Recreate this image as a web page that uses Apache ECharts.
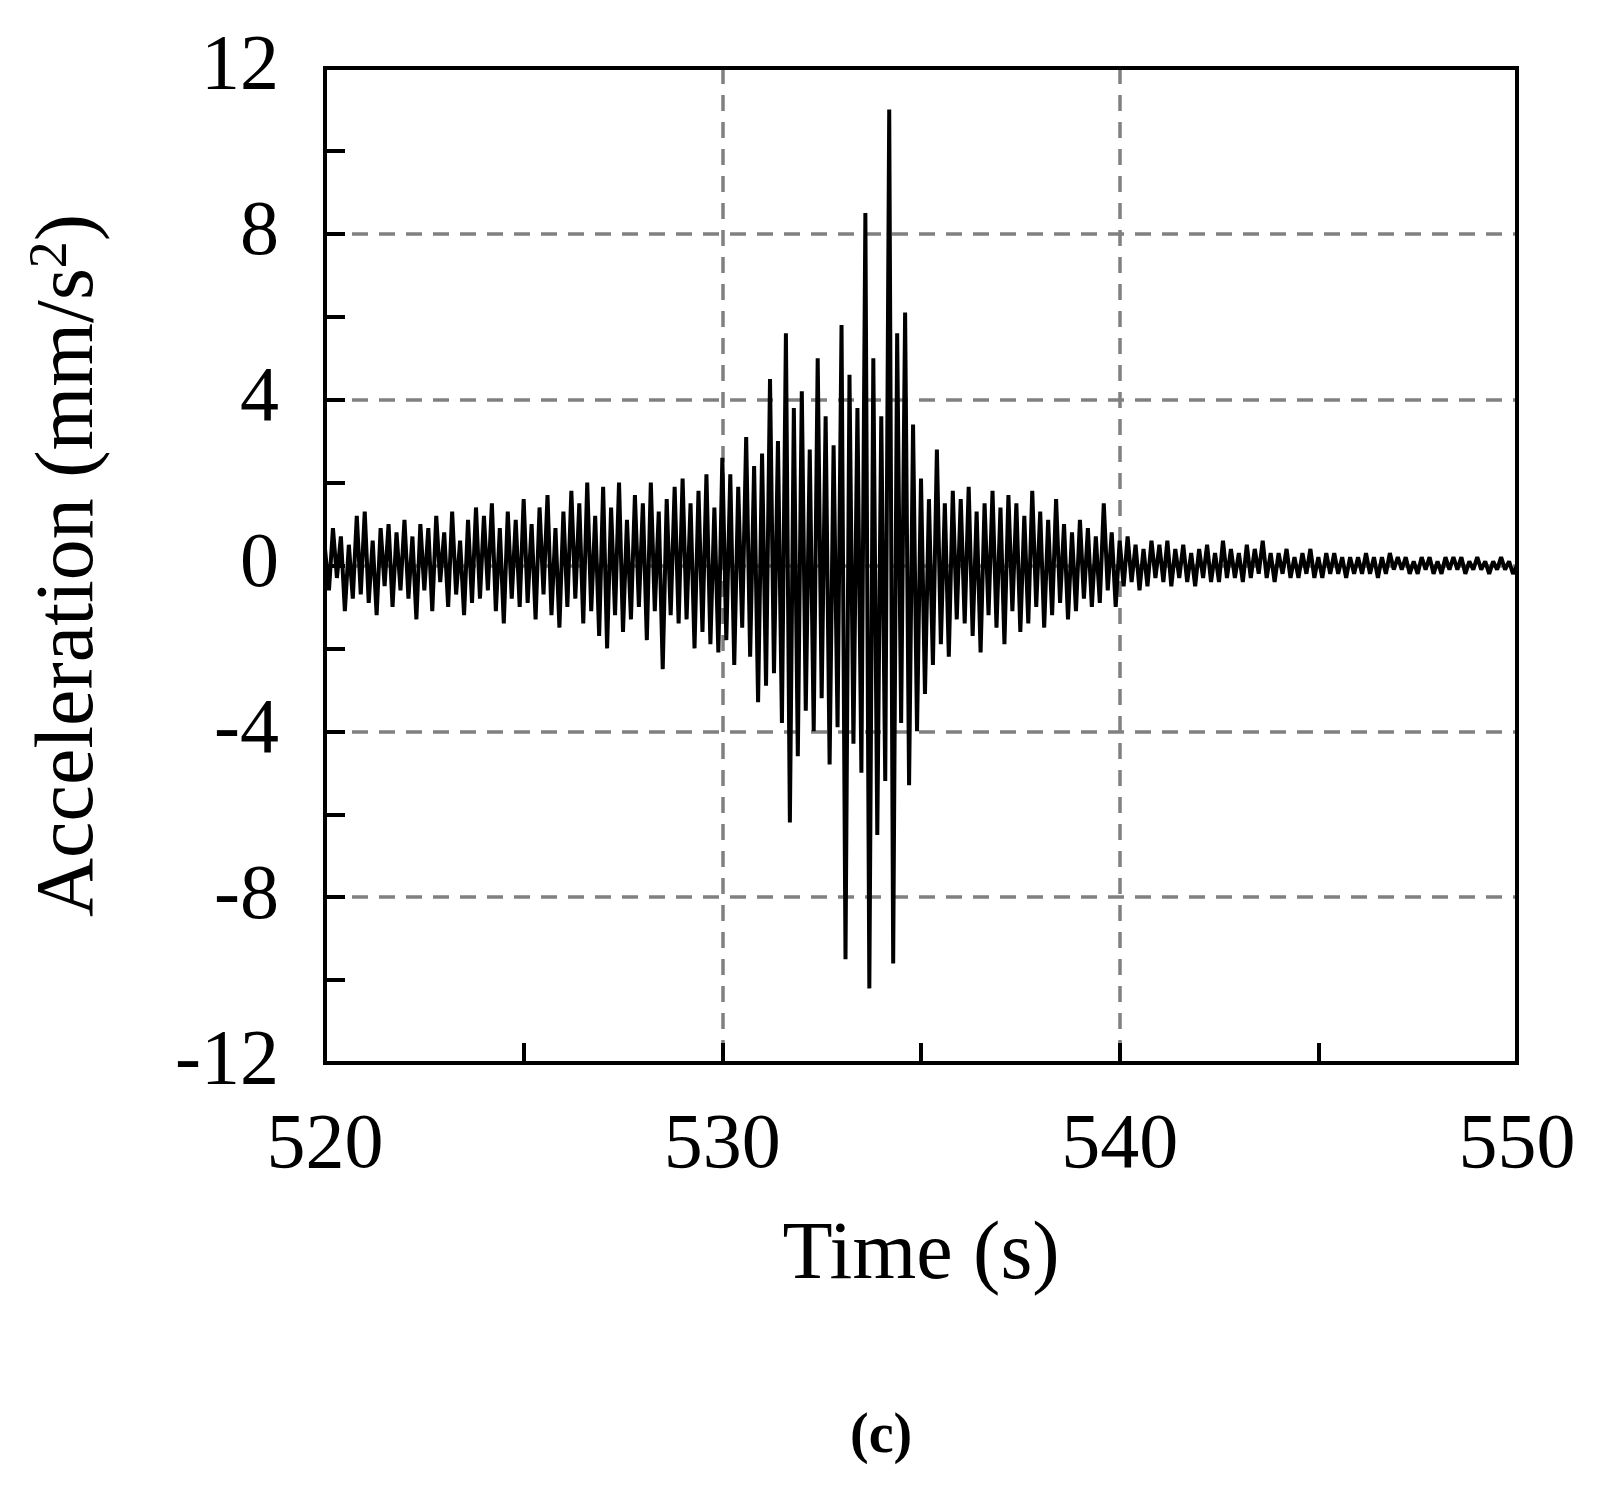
<!DOCTYPE html>
<html>
<head>
<meta charset="utf-8">
<script src="https://cdn.jsdelivr.net/npm/echarts@6/dist/echarts.min.js"></script>
<style>
  html, body { margin: 0; padding: 0; background: #fff; }
  #chart { width: 1618px; height: 1487px; }
</style>
</head>
<body>
<div id="chart"></div>
<script>
// sampling: one value every 0.1 s starting at 520 s
var startTime = 520;
var stepTime = 0.1;

// acceleration (mm/s^2), one row per second
var accel = [
  0.4,-0.6,0.9,-0.3,0.7,-1.1,0.5,-0.8,1.2,-0.7,
  1.3,-0.9,0.6,-1.2,0.9,-0.5,1.0,-1.0,0.8,-0.6,
  1.1,-0.8,0.7,-1.3,1.0,-0.6,0.9,-1.1,1.2,-0.4,
  0.8,-1.0,1.3,-0.7,0.6,-1.2,1.1,-0.9,1.4,-0.8,
  1.2,-0.6,1.5,-1.1,0.9,-1.4,1.3,-0.8,1.1,-1.0,
  1.6,-0.9,1.0,-1.3,1.4,-0.7,1.7,-1.2,0.9,-1.5,
  1.3,-1.0,1.8,-0.8,1.5,-1.4,2.0,-1.1,1.2,-1.7,
  1.9,-2.0,1.4,-1.2,2.0,-1.6,1.1,-1.3,1.7,-1.0,
  1.5,-1.8,2.0,-1.1,1.3,-2.5,1.6,-1.2,1.9,-1.4,
  2.1,-1.3,1.5,-2.0,1.8,-1.6,2.2,-1.9,1.4,-2.1,
  2.6,-1.8,2.2,-2.4,1.9,-1.5,3.1,-2.2,2.4,-3.3,
  2.7,-2.9,4.5,-2.6,3.0,-3.8,5.6,-6.2,3.8,-4.6,
  4.2,-3.5,2.8,-4.0,5.0,-3.2,3.6,-4.8,2.9,-3.9,
  5.8,-9.5,4.6,-4.3,3.8,-5.0,8.5,-10.2,5.0,-6.5,
  3.6,-5.2,11.0,-9.6,5.6,-3.8,6.1,-5.3,3.4,-4.0,
  2.1,-3.1,1.6,-2.4,2.8,-1.9,1.5,-2.2,1.8,-1.3,
  1.6,-1.4,1.9,-1.7,1.3,-2.1,1.5,-1.2,1.8,-1.5,
  1.4,-1.9,1.7,-1.1,1.5,-1.6,1.2,-1.4,1.8,-1.0,
  1.3,-1.5,1.1,-1.2,1.6,-0.9,1.0,-1.3,0.8,-1.1,
  1.1,-0.8,0.9,-1.0,0.7,-0.9,1.5,-0.6,0.8,-1.0,
  0.6,-0.5,0.7,-0.4,0.5,-0.6,0.4,-0.5,0.6,-0.3,
  0.5,-0.4,0.6,-0.5,0.4,-0.3,0.5,-0.4,0.3,-0.5,
  0.4,-0.3,0.5,-0.4,0.3,-0.4,0.6,-0.3,0.4,-0.3,
  0.3,-0.4,0.5,-0.3,0.4,-0.2,0.6,-0.3,0.3,-0.4,
  0.3,-0.2,0.4,-0.3,0.2,-0.3,0.3,-0.2,0.4,-0.3,
  0.2,-0.3,0.3,-0.2,0.3,-0.2,0.2,-0.3,0.2,-0.2,
  0.2,-0.2,0.3,-0.2,0.2,-0.3,0.2,-0.2,0.3,-0.1,
  0.2,-0.1,0.2,-0.2,0.1,-0.2,0.2,-0.1,0.2,-0.2,
  0.1,-0.2,0.2,-0.1,0.2,-0.1,0.2,-0.2,0.1,-0.1,
  0.2,-0.1,0.1,-0.2,0.1,-0.1,0.2,-0.1,0.1,-0.2,
  0.0
];

var seriesData = [];
for (var i = 0; i < accel.length; i++) {
  seriesData.push([+(startTime + i * stepTime).toFixed(2), accel[i]]);
}

var font = 'Liberation Serif';
var chart = echarts.init(document.getElementById('chart'));
var option = {
  animation: false,
  grid: { left: 325, right: 101, top: 68, bottom: 424 },
  xAxis: {
    type: 'value', min: 520, max: 550, interval: 10,
    name: 'Time (s)', nameLocation: 'middle', nameGap: 152,
    nameTextStyle: { fontFamily: font, fontSize: 82, color: '#000' },
    axisLine: { show: true, onZero: false, lineStyle: { color: '#000', width: 4 } },
    axisTick: { show: true, inside: true, length: 20, lineStyle: { color: '#000', width: 4 } },
    minorTick: { show: true, splitNumber: 2, length: 20, lineStyle: { color: '#000', width: 4 } },
    axisLabel: { fontFamily: font, fontSize: 78, color: '#000', margin: 45 },
    splitLine: { show: true, lineStyle: { color: '#808080', width: 3.5, type: [16, 11] } }
  },
  yAxis: {
    type: 'value', min: -12, max: 12, interval: 4,
    name: 'Acceleration (mm/s{sup|2})', nameLocation: 'middle', nameGap: 210,
    nameTextStyle: {
      fontFamily: font, fontSize: 82, color: '#000',
      rich: { sup: { fontFamily: font, fontSize: 54, color: '#000', verticalAlign: 'top', padding: [0, 0, 36, 0] } }
    },
    axisLine: { show: true, onZero: false, lineStyle: { color: '#000', width: 4 } },
    axisTick: { show: true, inside: true, length: 20, lineStyle: { color: '#000', width: 4 } },
    minorTick: { show: true, splitNumber: 2, length: 20, lineStyle: { color: '#000', width: 4 } },
    axisLabel: { fontFamily: font, fontSize: 78, color: '#000', margin: 46 },
    splitLine: { show: true, lineStyle: { color: '#808080', width: 3.5, type: [16, 11] } }
  },
  graphic: [
    { type: 'rect', shape: { x: 325, y: 68, width: 1192, height: 995 },
      style: { fill: 'none', stroke: '#000', lineWidth: 4 }, z: 10 },
    { type: 'text', left: 850, top: 1410,
      style: { text: '(c)', font: 'bold 56px "Liberation Serif"', fill: '#000', textAlign: 'center' } }
  ],
  series: [{
    type: 'line', data: seriesData, showSymbol: false,
    lineStyle: { color: '#000', width: 4 }, z: 5
  }]
};
chart.setOption(option);
</script>
</body>
</html>
